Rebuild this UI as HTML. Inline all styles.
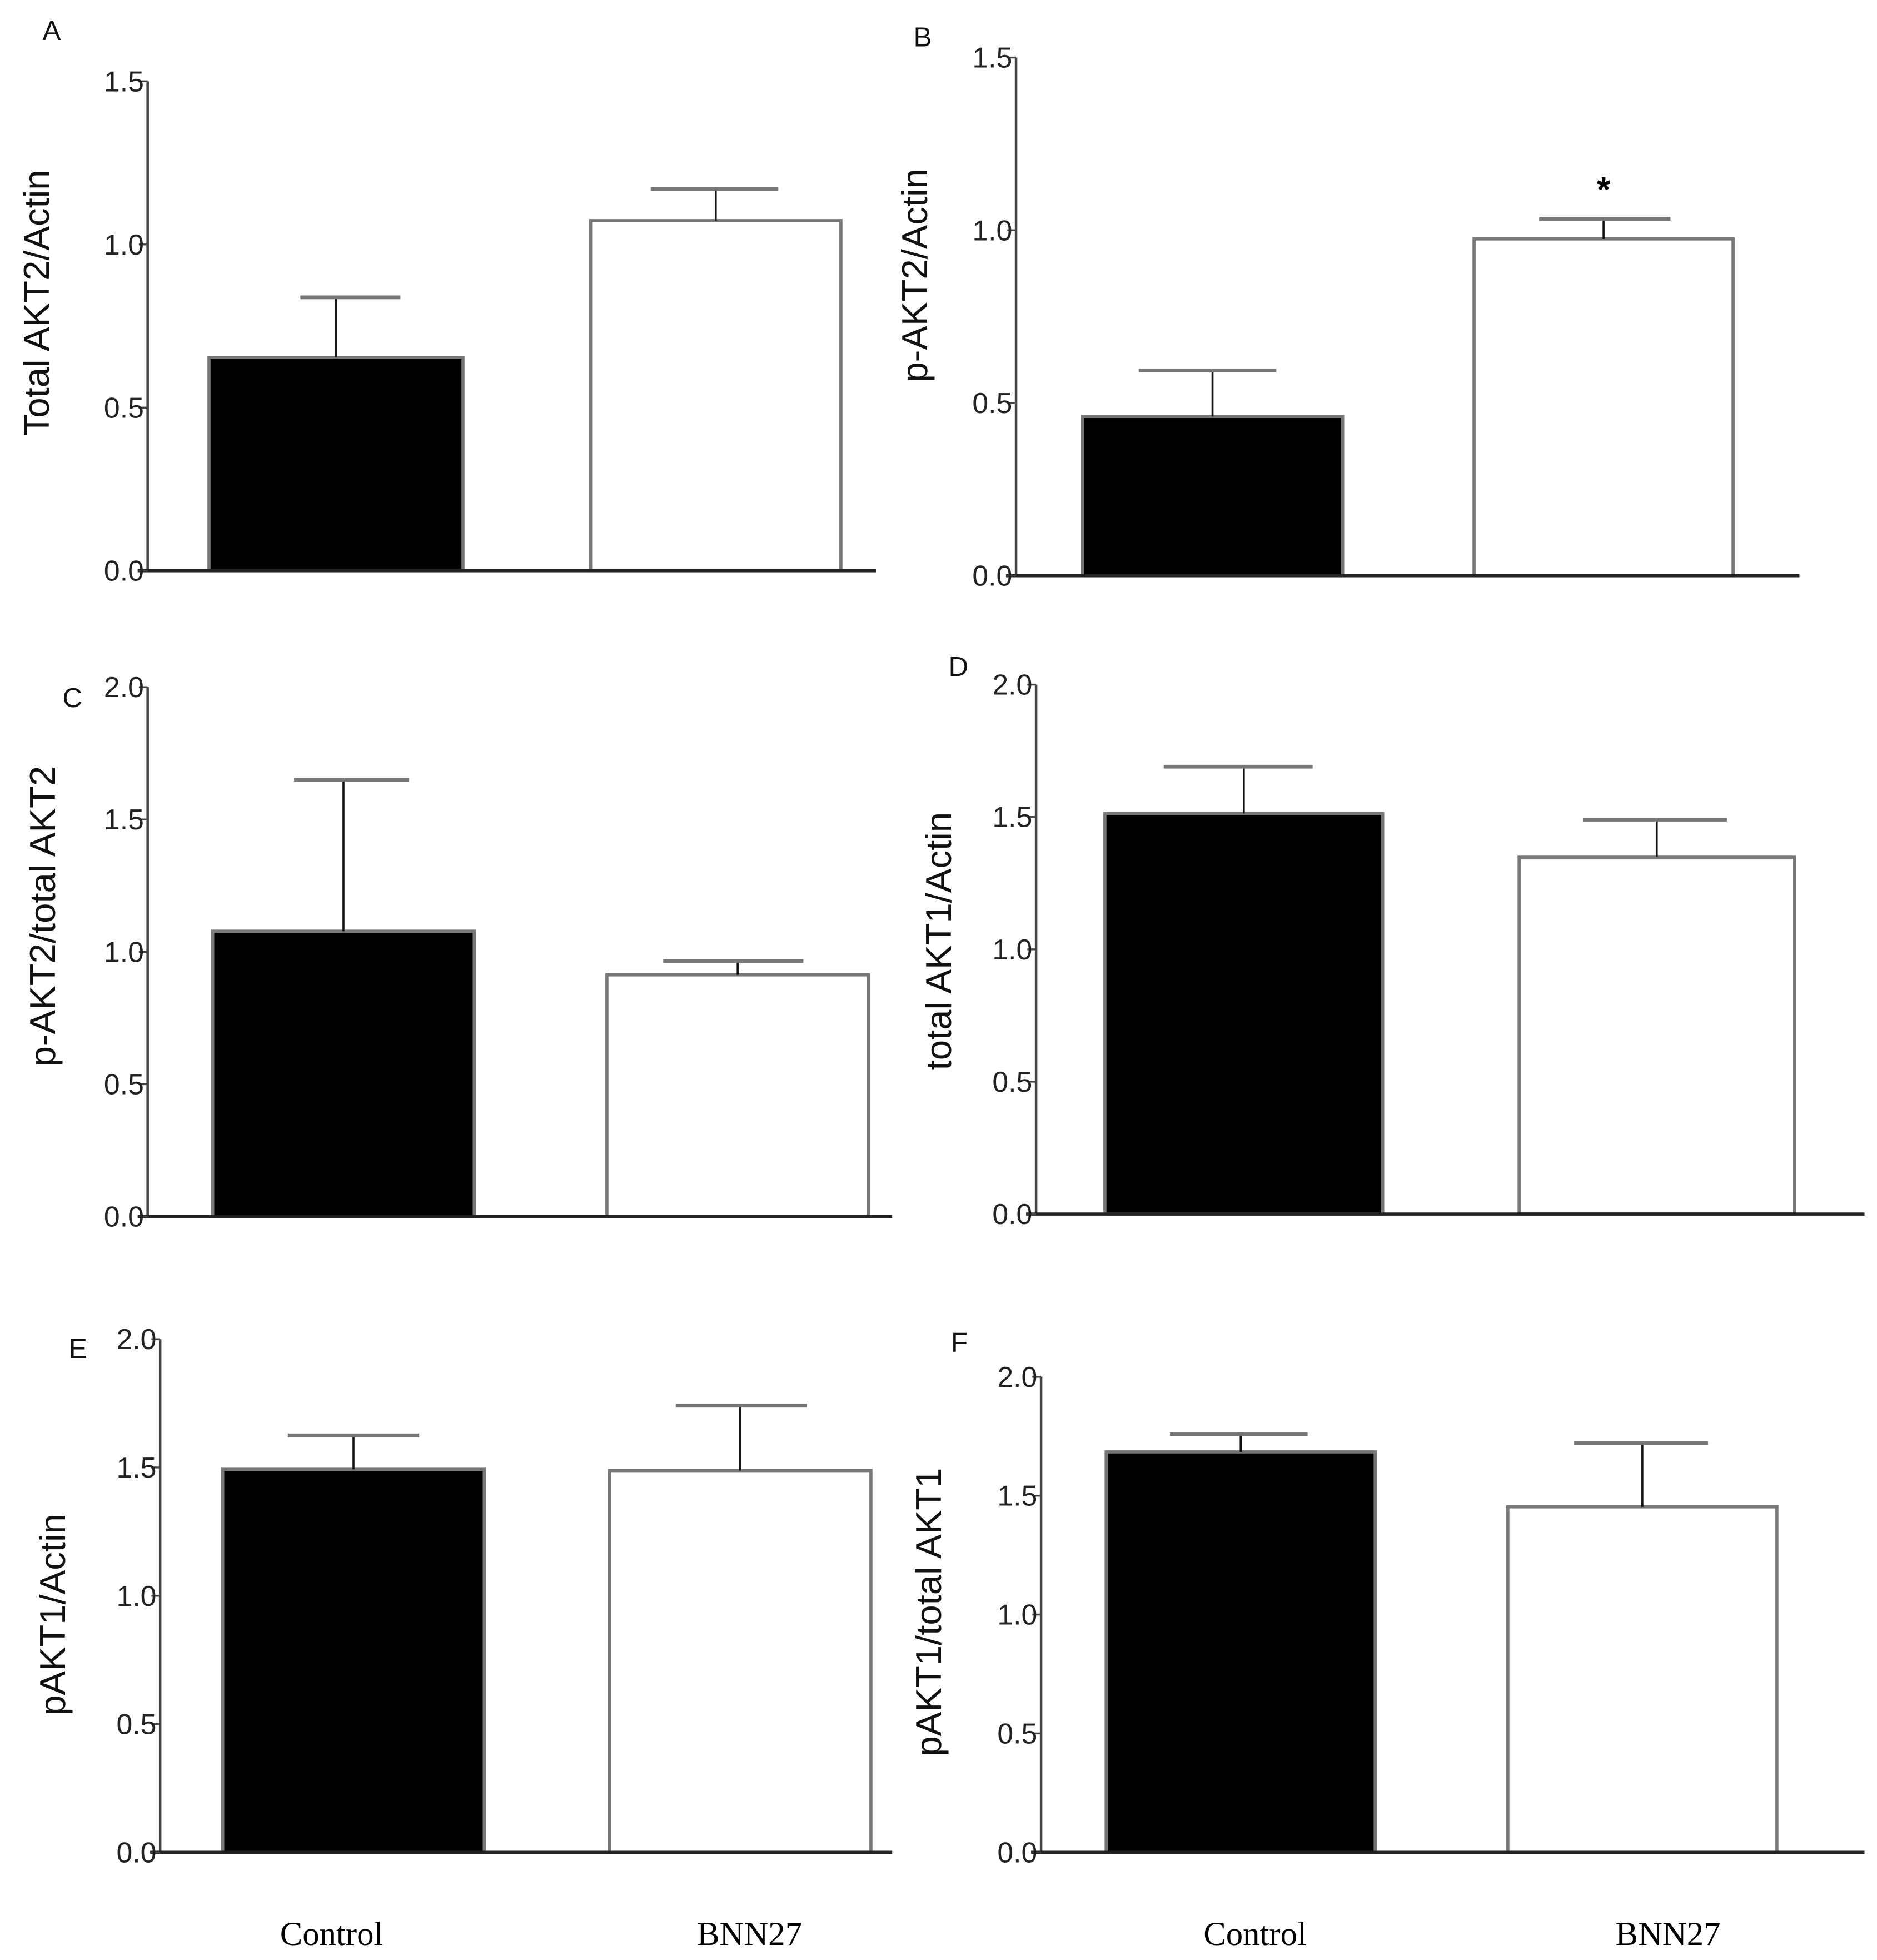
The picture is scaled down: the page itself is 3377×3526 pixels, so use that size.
<!DOCTYPE html>
<html><head><meta charset="utf-8">
<style>
html,body{margin:0;padding:0;background:#fff;}
svg{display:block;}
.tick{font-family:"Liberation Sans",sans-serif;font-size:23px;fill:#222;}
.ytitle{font-family:"Liberation Sans",sans-serif;font-size:29px;fill:#111;}
.plabel{font-family:"Liberation Sans",sans-serif;font-size:22px;fill:#111;}
.xcat{font-family:"Liberation Serif",serif;font-size:27px;fill:#000;}
</style></head>
<body>
<svg id="fig" width="3377" height="3526" viewBox="0 0 1500 1566" preserveAspectRatio="none" xmlns="http://www.w3.org/2000/svg">
<text class="xcat" x="265" y="1554" text-anchor="middle">Control</text>
<text class="xcat" x="599" y="1554" text-anchor="middle">BNN27</text>
<text class="xcat" x="1003" y="1554" text-anchor="middle">Control</text>
<text class="xcat" x="1333" y="1554" text-anchor="middle">BNN27</text>
</svg>
<script>
// Data arrays
const categories = ["Control", "BNN27"];
const panelAValues = [0.654, 1.073];
const panelAErrors = [0.184, 0.097];
const panelBValues = [0.461, 0.975];
const panelBErrors = [0.133, 0.058];
const panelCValues = [1.078, 0.913];
const panelCErrors = [0.572, 0.052];
const panelDValues = [1.513, 1.348];
const panelDErrors = [0.177, 0.142];
const panelEValues = [1.493, 1.488];
const panelEErrors = [0.132, 0.253];
const panelFValues = [1.684, 1.453];
const panelFErrors = [0.074, 0.268];
const ticksSmall = ["0.0", "0.5", "1.0", "1.5"];
const ticksLarge = ["0.0", "0.5", "1.0", "1.5", "2.0"];
const tickStepValue = 0.5;

// Layout (positions only, not data)
const panels = [
 {id:"a", letter:"A", lx:34, ly:32, axX:118, y0:456, yTop:65, xEnd:700, ticks:ticksSmall, title:"Total AKT2/Actin", tx:39, tcy:242,
  bars:[[167,370],[472,672]], caps:[[240,320],[520,622]], vals:panelAValues, errs:panelAErrors},
 {id:"b", letter:"B", lx:730, ly:37, axX:812, y0:460, yTop:46, xEnd:1438, ticks:ticksSmall, title:"p-AKT2/Actin", tx:741, tcy:220,
  bars:[[865,1073],[1178,1385]], caps:[[910,1020],[1230,1335]], vals:panelBValues, errs:panelBErrors, star:1},
 {id:"c", letter:"C", lx:50, ly:565, axX:118, y0:972, yTop:549, xEnd:713, ticks:ticksLarge, title:"p-AKT2/total AKT2", tx:44, tcy:732,
  bars:[[170,379],[485,694]], caps:[[235,327],[530,642]], vals:panelCValues, errs:panelCErrors},
 {id:"d", letter:"D", lx:758, ly:540, axX:828, y0:970, yTop:547, xEnd:1490, ticks:ticksLarge, title:"total AKT1/Actin", tx:760, tcy:752,
  bars:[[883,1105],[1214,1434]], caps:[[930,1049],[1265,1380]], vals:panelDValues, errs:panelDErrors},
 {id:"e", letter:"E", lx:55, ly:1085, axX:128, y0:1480, yTop:1070, xEnd:713, ticks:ticksLarge, title:"pAKT1/Actin", tx:52, tcy:1290,
  bars:[[178,387],[487,696]], caps:[[230,335],[540,645]], vals:panelEValues, errs:panelEErrors},
 {id:"f", letter:"F", lx:760, ly:1080, axX:832, y0:1480, yTop:1100, xEnd:1490, ticks:ticksLarge, title:"pAKT1/total AKT1", tx:752, tcy:1288,
  bars:[[884,1099],[1205,1420]], caps:[[935,1045],[1258,1365]], vals:panelFValues, errs:panelFErrors}
];
const NS = "http://www.w3.org/2000/svg";
const svg = document.getElementById("fig");
function mk(tag, attrs, parent){const e=document.createElementNS(NS,tag);for(const k in attrs)e.setAttribute(k,attrs[k]);(parent||svg).appendChild(e);return e;}

panels.forEach(p=>{
  const g = mk("g",{});
  
  
  const maxV = (p.ticks.length-1)*tickStepValue;
  const yScale = v => p.y0 - (v/maxV)*(p.y0-p.yTop);
  p.vals.forEach((v,i)=>{
    const b = p.bars[i];
    const top = yScale(v);
    const r = mk("rect",{x:b[0],y:top,width:b[1]-b[0],height:p.y0-top,fill:i===0?"#000":"#fff",stroke:"#777","stroke-width":2.5},g);
    
    
    const cx = (b[0]+b[1])/2;
    const ey = yScale(v + p.errs[i]);
    const el = mk("line",{x1:cx,x2:cx,y1:top,y2:ey,stroke:"#111","stroke-width":1.6},g);
    
    
    const cap = mk("line",{x1:p.caps[i][0],x2:p.caps[i][1],y1:ey,y2:ey,stroke:"#777","stroke-width":3},g);
    
    
    if (p.star===i){
      const s = mk("text",{x:cx,y:ey-14,"text-anchor":"middle","font-family":"Liberation Sans, sans-serif","font-size":28,"font-weight":"bold",fill:"#000"},g);
      s.textContent="*";
      
      
    }
  });
  const ya = mk("line",{x1:p.axX,x2:p.axX,y1:p.yTop,y2:p.y0+1,stroke:"#444","stroke-width":2},g);
  
  
  const xa = mk("line",{x1:p.axX-8,x2:p.xEnd,y1:p.y0,y2:p.y0,stroke:"#222","stroke-width":2.5},g);
  
  
  p.ticks.forEach((t,i)=>{
    const y = yScale(i*tickStepValue);
    mk("line",{x1:p.axX-7,x2:p.axX,y1:y,y2:y,stroke:"#444","stroke-width":1.5},g);
    const tx = mk("text",{x:p.axX-3,y:y+8,"text-anchor":"end",class:"tick"},g);
    tx.textContent = t;
    
    
  });
  const tt = mk("text",{x:0,y:0,"text-anchor":"middle",class:"ytitle",transform:"translate("+p.tx+","+p.tcy+") rotate(-90)"},g);
  tt.textContent = p.title;
  
  
  const pl = mk("text",{x:p.lx,y:p.ly,class:"plabel"},g);
  pl.textContent = p.letter;
  
  
});
</script>
</body></html>
